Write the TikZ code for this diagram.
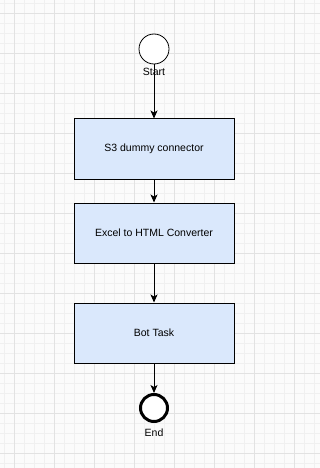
\documentclass[tikz,border=0pt]{standalone}
\usepackage{fontspec}
\setmainfont{Liberation Sans}
\usetikzlibrary{arrows.meta, positioning}
\definecolor{boxblue}{HTML}{DAE8FC}
\definecolor{gridminor}{HTML}{F0F0F0}
\definecolor{gridmajor}{HTML}{E2E2E2}
\definecolor{sfondo}{HTML}{FBFBFB}

\begin{document}
\begin{tikzpicture}[
  x=1pt, y=-1pt,
  font=\fontsize{10.5}{12}\selectfont,
  compito/.style={draw=black, fill=boxblue, line width=1pt, align=center,
                  minimum width=160pt, minimum height=60pt},
  inizio/.style={circle, draw=black, fill=white, line width=0.8pt, minimum size=30pt, inner sep=0pt},
  fine/.style={circle, draw=black, fill=white, line width=3pt, minimum size=27pt, inner sep=0pt},
  freccia/.style={draw=black, line width=1pt, -{Stealth[length=8pt,width=7pt,inset=2pt]}}
]

% sfondo con griglia
\useasboundingbox (0,0) rectangle (320,468);
\fill[sfondo] (0,0) rectangle (320,468);
\foreach \gx in {4,14,...,314} \draw[gridminor, line width=0.6pt] (\gx,0) -- (\gx,468);
\foreach \gy in {3,13,...,463} \draw[gridminor, line width=0.6pt] (0,\gy) -- (320,\gy);
\foreach \gx in {14,54,...,294} \draw[gridmajor, line width=0.8pt] (\gx,0) -- (\gx,468);
\foreach \gy in {13,53,...,453} \draw[gridmajor, line width=0.8pt] (0,\gy) -- (320,\gy);

\node[inizio] (start) at (154,49) {};
\node (startlbl) at (154,72) {Start};
\node[compito] (s3) at (154,149) {S3 dummy connector};
\node[compito] (excel) at (154,233) {Excel to HTML Converter};
\node[compito] (bot) at (154,333) {Bot Task};
\node[fine] (finish) at (154,408) {};
\node (finishlbl) at (154,433) {End};

\draw[freccia] (start) -- (s3);
\draw[freccia] (s3) -- (excel);
\draw[freccia] (excel) -- (bot);
\draw[freccia] (bot) -- (finish);

\end{tikzpicture}
\end{document}
